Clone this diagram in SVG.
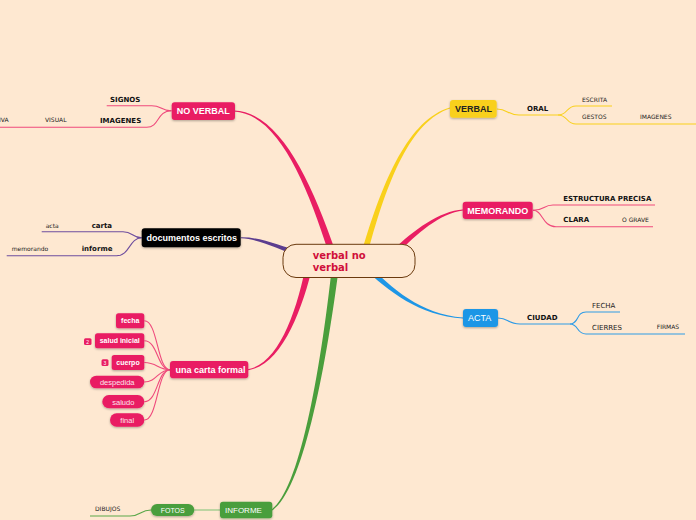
<svg xmlns="http://www.w3.org/2000/svg" width="696" height="520" viewBox="0 0 696 520">
<defs>
<filter id="sh" x="-20%" y="-30%" width="140%" height="170%"><feDropShadow dx="0" dy="1" stdDeviation="0.8" flood-color="#000" flood-opacity="0.3"/></filter>
<style>
.lab{font-family:"Liberation Sans",Arial,sans-serif;fill:#fff}
.b{font-weight:bold}
.sb{font-family:"DejaVu Sans",Verdana,sans-serif;font-weight:bold;font-size:7px;fill:#111}
.sr{font-family:"DejaVu Sans",Verdana,sans-serif;font-size:6px;fill:#222}
.pk{fill:#e91e63}
.ln{fill:none;stroke-width:1.1}
</style>
</defs>
<rect width="696" height="520" fill="#fee8d1"/>
<g id="connectors">
<path fill="#e91e63" d="M335.3 250.9 C310.2 179.1 279.1 112.3 234 110.5 L234 111.5 C276.9 113.7 305.8 180.9 328.7 253.1 Z"/>
<path fill="#f9d01b" d="M367.9 252.8 C387 180.7 411.1 120.6 450.1 108.5 L449.9 107.5 C408.9 119.4 383 179.3 362.1 251.2 Z"/>
<path fill="#e91e63" d="M397.1 254.1 C416.4 233.6 440.7 213 463 210.5 L463 209.5 C439.3 211 413.6 230.4 392.9 249.9 Z"/>
<path fill="#5c3d8f" d="M300.7 251.6 C280.5 246.2 260.2 236.9 241 237.3 L241 238.3 C259.8 239.1 279.5 249.8 299.3 256.4 Z"/>
<path fill="#e91e63" d="M306.6 261.3 C297.7 309.4 278.8 364.4 247.9 369.2 L248.1 370.2 C281.2 365.6 302.3 310.6 313.4 262.7 Z"/>
<path fill="#4a9e3c" d="M332.5 261.6 C319.6 379.6 298.7 489.6 271.7 509.6 L272.3 510.4 C301.4 490.4 324.4 380.4 339.5 262.4 Z"/>
<path fill="#1e96e6" d="M362.9 267.1 C388.6 291.6 419.3 316 463 318.5 L463 317.5 C420.7 314 391.4 288.4 367.1 262.9 Z"/>
<g class="ln" stroke="#ef4a7c">
<path d="M171.5 110.7 C160 110.7 162 105.7 151.7 105.7 L106.7 105.7"/>
<path d="M171.5 110.7 C156 111 160 127.3 146.7 127.3 L0 127.3"/>
<path d="M533 210.3 C545 210.3 543 205 553 205 L655 205"/>
<path d="M533 210.3 C543 210.3 542 226.7 556 226.7 L653 226.7"/>
<path d="M144.3 320.8 C158 320.8 157 369.7 170 369.7"/>
<path d="M144.3 340.8 C158 340.8 157 369.7 170 369.7"/>
<path d="M144.3 362.5 C157 362.5 158 369.7 170 369.7"/>
<path d="M144.3 382 C157 382 158 369.7 170 369.7"/>
<path d="M144.3 401.7 C158 401.7 157 369.7 170 369.7"/>
<path d="M144.3 420 C158 420 157 369.7 170 369.7"/>
</g>
<g class="ln" stroke="#f9d01b">
<path d="M497 109 C508 109 507 115 519 115 L558 115"/>
<path d="M558 115 C568 115 566 106 576 106 L612 106"/>
<path d="M558 115 C568 115 566 124 576 124 L696 124"/>
</g>
<g class="ln" stroke="#2f9be6">
<path d="M498 318 C509 318 507 324 520 324 L570 324"/>
<path d="M570 324 C579 324 576 312 586 312 L620 312"/>
<path d="M570 324 C579 324 576 334 586 334 L685 334"/>
</g>
<g class="ln" stroke="#6e4d9e">
<path d="M141.7 237.8 C132 237.8 133 231.7 123 231.7 L41.7 231.7"/>
<path d="M141.7 237.8 C129 238 130 255.7 116.7 255.7 L6.7 255.7"/>
</g>
<g class="ln" stroke="#5aa84a">
<path d="M151 510 C140 510 141 516 130 516 L90 516"/>
</g>
<path d="M194.3 510 L220 510" stroke="#9acb88" stroke-width="1.3" fill="none"/>
</g>
<g id="center">
<rect x="283" y="244.3" width="132" height="33.2" rx="13" fill="#fee8d1" stroke="#6b3a0e" stroke-width="1"/>
<text x="312.7" y="259" font-family="DejaVu Sans,Verdana,sans-serif" font-weight="bold" font-size="10" fill="#d0103a">verbal no</text>
<text x="312.7" y="270.7" font-family="DejaVu Sans,Verdana,sans-serif" font-weight="bold" font-size="10" fill="#d0103a">verbal</text>
</g>
<g id="noverbal">
<rect x="171.7" y="102.3" width="63.3" height="17.7" rx="3" class="pk" filter="url(#sh)"/>
<text x="176.7" y="114.2" font-size="9" class="lab b">NO VERBAL</text>
<text x="110" y="101.7" class="sb">SIGNOS</text>
<text x="100" y="122.7" class="sb">IMAGENES</text>
<text x="45" y="122.3" class="sr">VISUAL</text>
<text x="-1" y="122.3" class="sr">IVA</text>
</g>
<g id="verbal">
<rect x="450" y="100" width="46.7" height="17.7" rx="3" fill="#f9d01b" filter="url(#sh)"/>
<text x="455" y="112" font-size="9" class="lab b" style="fill:#222">VERBAL</text>
<text x="527" y="110.7" class="sb">ORAL</text>
<text x="582" y="101.7" class="sr">ESCRITA</text>
<text x="582" y="119.3" class="sr">GESTOS</text>
<text x="640" y="119.3" class="sr">IMAGENES</text>
</g>
<g id="memorando">
<rect x="462.7" y="201.7" width="70" height="17.3" rx="3" class="pk" filter="url(#sh)"/>
<text x="467.3" y="213.5" font-size="9" class="lab b">MEMORANDO</text>
<text x="563.3" y="200.5" class="sb">ESTRUCTURA PRECISA</text>
<text x="563.3" y="222.3" class="sb">CLARA</text>
<text x="622" y="222.3" class="sr">O GRAVE</text>
</g>
<g id="acta">
<rect x="463" y="309" width="35" height="18" rx="3" fill="#1e96e6" filter="url(#sh)"/>
<text x="468" y="321.2" font-size="9" class="lab">ACTA</text>
<text x="527" y="320.3" class="sb">CIUDAD</text>
<text x="592" y="307.8" class="sr" style="font-size:7px">FECHA</text>
<text x="592" y="329.8" class="sr" style="font-size:7px">CIERRES</text>
<text x="656.7" y="328.5" class="sr">FIRMAS</text>
</g>
<g id="documentos">
<rect x="141.7" y="228.3" width="99" height="19" rx="3" fill="#000" filter="url(#sh)"/>
<text x="146.5" y="241" font-size="9" class="lab b">documentos escritos</text>
<text x="91.7" y="227.5" class="sb">carta</text>
<text x="45.7" y="227.8" class="sr">acta</text>
<text x="81.7" y="251.3" class="sb">informe</text>
<text x="11.7" y="250.6" class="sr">memorando</text>
</g>
<g id="cartaformal">
<rect x="170" y="361" width="78.3" height="17.3" rx="3" class="pk" filter="url(#sh)"/>
<text x="175.5" y="372.7" font-size="9" class="lab b">una carta formal</text>
</g>
<g id="fecha"><rect x="116" y="313.3" width="28.3" height="15" rx="2.5" class="pk" filter="url(#sh)"/><text x="130.2" y="323.3" text-anchor="middle" font-size="7" class="lab b">fecha</text></g>
<g id="saludinicial"><rect x="95" y="333.3" width="49.3" height="15" rx="2.5" class="pk" filter="url(#sh)"/><text x="119.7" y="343.3" text-anchor="middle" font-size="7" class="lab b">salud inicial</text>
<rect x="84" y="338.3" width="7.5" height="6.8" rx="1.5" class="pk"/><text x="87.75" y="343.5" text-anchor="middle" font-size="5" class="lab">2</text></g>
<g id="cuerpo"><rect x="111.7" y="355" width="32.6" height="15" rx="2.5" class="pk" filter="url(#sh)"/><text x="128" y="365" text-anchor="middle" font-size="7" class="lab b">cuerpo</text>
<rect x="101.5" y="359.3" width="7" height="6.8" rx="1.5" class="pk"/><text x="105" y="364.5" text-anchor="middle" font-size="5" class="lab">3</text></g>
<g id="despedida"><rect x="90" y="375.7" width="54.3" height="12.6" rx="6.3" class="pk" filter="url(#sh)"/><text x="117.2" y="384.8" text-anchor="middle" font-size="7.5" class="lab" style="fill:#fde3ec">despedida</text></g>
<g id="saludo"><rect x="102.3" y="395" width="42" height="13.3" rx="6.6" class="pk" filter="url(#sh)"/><text x="123.3" y="404.5" text-anchor="middle" font-size="7.5" class="lab" style="fill:#fde3ec">saludo</text></g>
<g id="final"><rect x="110" y="413.3" width="34.3" height="13.4" rx="6.6" class="pk" filter="url(#sh)"/><text x="127.2" y="422.8" text-anchor="middle" font-size="7.5" class="lab" style="fill:#fde3ec">final</text></g>
<g id="informe">
<rect x="220" y="501.7" width="52.3" height="16.6" rx="3" fill="#4a9e3c" filter="url(#sh)"/>
<text x="225" y="513" font-size="8" class="lab">INFORME</text>
</g>
<g id="fotos">
<rect x="151" y="504" width="43.3" height="12" rx="6" fill="#4a9e3c" filter="url(#sh)"/>
<text x="172.7" y="512.5" text-anchor="middle" font-size="7" class="lab">FOTOS</text>
<text x="95" y="511" class="sr">DIBUJOS</text>
</g>
</svg>
